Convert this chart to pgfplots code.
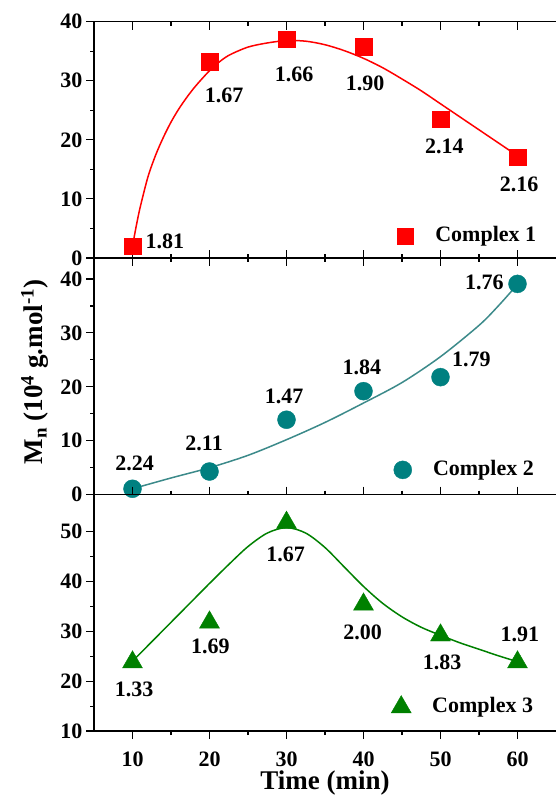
\documentclass[border=0pt]{standalone}
\usepackage{fontspec}
\setmainfont{Liberation Serif}
\usepackage{pgfplots}
\pgfplotsset{compat=1.18}
\definecolor{cred}{RGB}{255,0,0}
\definecolor{cteal}{RGB}{0,128,128}
\definecolor{ctealline}{RGB}{60,138,138}
\definecolor{cgreen}{RGB}{0,128,0}
\pgfplotsset{
 panel/.style={
  scale only axis, width=462pt,
  xmin=5, xmax=65,
  axis x line*=box, axis y line*=left,
  xtick={10,20,...,60}, minor x tick num=1, minor y tick num=1,
  major tick length=8pt, minor tick length=4pt,
  ytick align=outside, xtick align=inside,
  axis line style={line width=1.3pt},
  tick style={black, line width=1.1pt},
  tick label style={font=\fontsize{22}{26}\selectfont\bfseries},
  /pgf/number format/assume math mode=true,
  clip=false,
 }}
\tikzset{lbl/.style={font=\fontsize{22}{26}\selectfont\bfseries, inner sep=0pt}}
\begin{document}
\begin{tikzpicture}
\useasboundingbox (0,0) rectangle (555pt,797pt);
% Panel 1
\begin{axis}[panel, at={(94pt,539pt)}, anchor=south west, height=236.3pt,
  ymin=0, ymax=40, ytick={0,10,...,40}, xticklabels={}]
\addplot[cred, line width=1.5pt, smooth, tension=0.5] coordinates {
 (10,2.0) (10.5,5.5) (11,8.6) (12,13.7) (13,17.4) (14,20.4) (15,23.0) (16,25.2)
 (17,27.1) (18,28.8) (19,30.3) (20,31.7) (21,32.9) (22.5,34.3) (25,35.7)
 (27.5,36.4) (30,36.8) (32.5,36.7) (35,36.1) (37.5,35.1) (40,33.8) (42.5,32.2)
 (45,30.3) (47.5,28.3) (50,26.1) (52.5,23.9) (55,21.7) (57.5,19.5) (60,17.3)};
\addplot[only marks, mark=square*, mark size=8.2pt, cred] coordinates {
 (10,2.0) (20,33.2) (30,37.0) (40,35.8) (50,23.5) (60,17.1)};
\addplot[only marks, mark=square*, mark size=8.2pt, cred] coordinates {(45.4,3.7)};
\node[lbl, anchor=west] at (axis cs:49.3,3.7) {Complex 1};
\node[lbl] at (axis cs:14.2,2.9) {1.81};
\node[lbl] at (axis cs:21.9,27.6) {1.67};
\node[lbl] at (axis cs:31.0,31.1) {1.66};
\node[lbl] at (axis cs:40.2,29.5) {1.90};
\node[lbl] at (axis cs:50.5,18.9) {2.14};
\node[lbl] at (axis cs:60.2,12.5) {2.16};
\end{axis}
% Panel 2
\begin{axis}[panel, at={(94pt,302.3pt)}, anchor=south west, height=236.7pt,
  ymin=0, ymax=43.9, ytick={0,10,...,40}, xticklabels={}]
\addplot[ctealline, line width=1.5pt, smooth] coordinates {
 (10,1.1) (15,3.1) (20,5.0) (25,7.3) (30,10.2) (35,13.4) (40,17.0)
 (45,20.8) (50,25.6) (55,31.4) (57.5,35.0) (60,39.0)};
\addplot[only marks, mark=*, mark size=9pt, cteal] coordinates {
 (10,1.1) (20,4.3) (30,13.9) (40,19.2) (50,21.8) (60,39.1)};
\addplot[only marks, mark=*, mark size=9pt, cteal] coordinates {(45.1,4.6)};
\node[lbl, anchor=west] at (axis cs:49.0,4.6) {Complex 2};
\node[lbl] at (axis cs:10.26,5.75) {2.24};
\node[lbl] at (axis cs:19.3,9.5) {2.11};
\node[lbl] at (axis cs:29.7,18.2) {1.47};
\node[lbl] at (axis cs:39.8,23.6) {1.84};
\node[lbl] at (axis cs:54.0,25.1) {1.79};
\node[lbl] at (axis cs:55.7,39.4) {1.76};
\end{axis}
% Panel 3
\begin{axis}[panel, at={(94pt,66pt)}, anchor=south west, height=236.3pt,
  ymin=10, ymax=57.4, ytick={10,20,...,50}, xtick align=outside,
  xticklabel style={yshift=-9pt},
  xlabel={Time (min)}, xlabel style={font=\fontsize{27}{32}\selectfont\bfseries, yshift=2pt}]
\addplot[cgreen, line width=1.5pt, smooth] coordinates {
 (10,24) (12.5,27.9) (15,31.8) (17.5,35.7) (20,39.6) (22.5,43.4) (25,47.0)
 (27.5,49.7) (30,50.8) (32.5,49.7) (35,46.8) (37.5,42.9) (40,39.0) (42.5,35.6)
 (45,32.9) (47.5,30.8) (50,29.2) (52.5,27.7) (55,26.4) (57.5,25.1) (60,23.9)};
\addplot[only marks, mark=triangle*, mark size=11.5pt, cgreen] coordinates {
 (10,23.8) (20,31.8) (30,51.8) (40,35.4) (50,29.2) (60,23.8)};
\addplot[only marks, mark=triangle*, mark size=11.5pt, cgreen] coordinates {(44.9,14.8)};
\node[lbl, anchor=west] at (axis cs:48.9,14.8) {Complex 3};
\node[lbl] at (axis cs:10.2,18.4) {1.33};
\node[lbl] at (axis cs:20.1,27.0) {1.69};
\node[lbl] at (axis cs:29.9,45.4) {1.67};
\node[lbl] at (axis cs:39.9,29.8) {2.00};
\node[lbl] at (axis cs:50.2,23.7) {1.83};
\node[lbl] at (axis cs:60.3,29.3) {1.91};
\end{axis}
\node[rotate=90, font=\fontsize{27}{32}\selectfont\bfseries] at (35pt,425pt)
 {M\textsubscript{n} (10\textsuperscript{4} g.mol\textsuperscript{-1})};
\end{tikzpicture}
\end{document}
